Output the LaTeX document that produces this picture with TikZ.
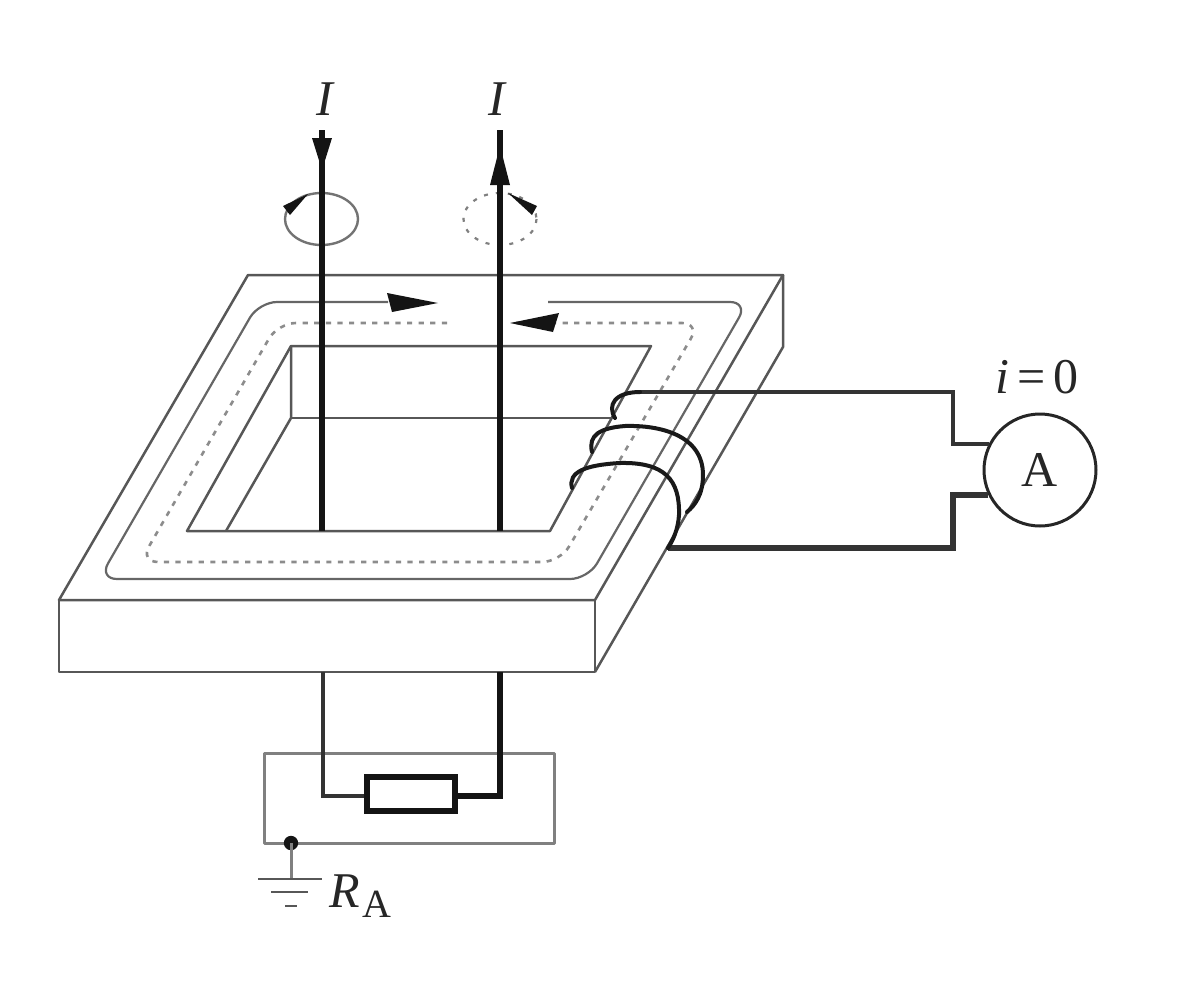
\documentclass[tikz,border=0pt]{standalone}
\usepackage{fontspec}
\setmainfont{Liberation Serif}
\tikzset{
  x=0.5pt,y=-0.5pt,
  edge/.style={draw=black!66,line width=1.25pt,line join=round},
  soft/.style={draw=black!50,line width=1.5pt,line join=round},
  flux/.style={draw=black!60,line width=1.1pt,rounded corners=9pt},
  dots/.style={draw=black!45,line width=1.3pt,dash pattern=on 2.6pt off 3.2pt,rounded corners=9pt},
  cable/.style={draw=black!92,line width=3.4pt,line join=miter},
  wire/.style={draw=black!80,line width=1.9pt,line join=miter},
  turn/.style={draw=black!90,line width=2pt,line cap=round},
  head/.style={fill=black!92,draw=none},
  lab/.style={inner sep=0pt,font=\fontsize{25}{28}\selectfont,text=black!85},
}
\begin{document}
\begin{tikzpicture}
\useasboundingbox (0,0) rectangle (1196,1007);
% block
\coordinate (tl) at (248,275); \coordinate (tr) at (783,275);
\coordinate (fl) at (59,600); \coordinate (fr) at (595,600);
\coordinate (bl) at (59,672); \coordinate (br) at (595,672);
\coordinate (rb) at (783,347);
\draw[edge] (tl) -- (tr) -- (fr) -- (fl) -- cycle;
\draw[edge] (fl) -- (bl) -- (br) -- (fr);
\draw[edge] (tr) -- (rb) -- (br);
% hole
\coordinate (h1) at (291,346); \coordinate (h2) at (651,346);
\coordinate (h3) at (550,531); \coordinate (h4) at (187,531);
\coordinate (h5) at (291,418); \coordinate (h6) at (226,531);
\coordinate (h7) at (612,418);
\draw[edge] (h1) -- (h2) -- (h3) -- (h4) -- cycle;
\draw[edge] (h1) -- (h5) -- (h6);
\draw[edge] (h5) -- (h7);
% flux paths
\draw[flux] (388,302) -- (259,302) -- (99,579) -- (588,579) -- (748,302) -- (548,302);
\draw[dots] (447,323) -- (278,323) -- (140,562) -- (560,562) -- (700,323) -- (510,323);
\fill[head] (387,293) -- (392,312) -- (438,303) -- cycle;
\fill[head] (510,323) -- (559,313) -- (553,332) -- cycle;
% circulating marks
\coordinate (lw) at (322,130); \coordinate (rw) at (500,130);
\draw[draw=black!55,line width=1.2pt] (321.5,219) ellipse [x radius=36.5,y radius=26];
\draw[draw=black!50,line width=1.1pt,dash pattern=on 2pt off 4pt] (500,219) ellipse [x radius=36.5,y radius=26];
\fill[head] (283,206) -- (290,215) -- (308,194) -- cycle;
\fill[head] (508,193) -- (537,206) -- (532,215) -- cycle;
% vertical conductors
\coordinate (lwb) at (322,531); \coordinate (rwb) at (500,531);
\draw[cable] (lw) -- (lwb);
\draw[cable] (rw) -- (rwb);
\fill[head] (312,138) -- (332,138) -- (322,170) -- cycle;
\fill[head] (490,185) -- (510,185) -- (500,146) -- cycle;
\node[lab,font=\fontsize{25}{28}\itshape] (i1) at (325,99) {I};
\node[lab,font=\fontsize{25}{28}\itshape] (i2) at (497,99) {I};
% ammeter
\node[circle,draw=black!85,line width=1.5pt,minimum size=56pt,inner sep=0pt,lab] (amm) at (1040,470) {A};
\node[lab] (cur) at (1037,377) {\textit{i}\kern4pt=\kern4pt0};
\coordinate (c1) at (953,392);
\coordinate (c3) at (953,548);
\coordinate (c5) at (668,548);
\draw[wire] (amm.153.5) -- (c1 |- amm.153.5) -- (c1) -- (640,392);
\draw[wire,line width=2.8pt] (amm.206.5) -- (c3 |- amm.206.5) -- (c3) -- (c5);
% coil
\draw[turn] (615,418) .. controls (607,405) and (615,392) .. (640,392);
\draw[turn] (592,452) .. controls (588,435) and (600,428) .. (625,426) .. controls (660,425) and (703,435) .. (703,475) .. controls (703,495) and (695,505) .. (687,512);
\draw[turn] (572,488) .. controls (568,472) and (585,465) .. (620,463) .. controls (665,462) and (680,480) .. (679,515) .. controls (678,530) and (673,540) .. (c5);
% lower circuit
\draw[soft] (264,753) rectangle (554,843);
\node[draw=black!92,line width=3pt,minimum width=44pt,minimum height=17pt,inner sep=0pt] (res) at (411,794) {};
\coordinate (b1) at (323,672); \coordinate (b2) at (323,796);
\coordinate (b3) at (500,672); \coordinate (b4) at (500,796);
\draw[wire] (b1) -- (b2) -- (b2 -| res.west);
\draw[cable] (b3) -- (b4) -- (b4 -| res.east);
% earth
\coordinate (gnd) at (291,843); \coordinate (g1) at (291,879);
\fill[black!92] (gnd) circle [radius=3.6pt];
\draw[soft] (gnd) -- (g1);
\draw[edge] (258,879) -- (322,879);
\draw[edge] (271,892) -- (308,892);
\draw[edge] (285,906) -- (297,906);
\node[lab,anchor=base west] (ra) at (329,907) {\textit{R}\kern1.5pt\raisebox{-5pt}{\fontsize{20}{22}\selectfont A}};
\end{tikzpicture}
\end{document}
